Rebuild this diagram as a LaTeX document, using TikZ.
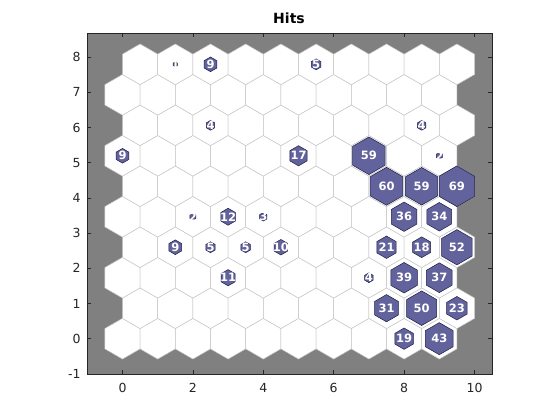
\documentclass[tikz,border=0pt]{standalone}
\usepackage{fontspec}
\setmainfont{DejaVu Sans}
\definecolor{hitfill}{RGB}{98,98,156}
\definecolor{hitedge}{RGB}{30,30,70}
\definecolor{gridedge}{RGB}{200,200,200}
\definecolor{axbg}{RGB}{128,128,128}
\definecolor{axcol}{RGB}{38,38,38}
\tikzset{
  hexgrid/.style={draw=gridedge, fill=white, line width=0.5pt},
  hitpatch/.style={draw=hitedge, fill=hitfill, line width=0.5pt},
  hitlabel/.style={text=white, font=\fontsize{11.5}{11.5}\selectfont\bfseries, inner sep=0pt},
  ticklabel/.style={text=axcol, font=\fontsize{12.5}{12.5}\selectfont, inner sep=0pt},
  axline/.style={draw=axcol, line width=0.6pt}
}
\newcommand{\hexshape}{(0.5,0.288675) -- (0,0.57735) -- (-0.5,0.288675) -- (-0.5,-0.288675) -- (0,-0.57735) -- (0.5,-0.288675) -- cycle}
\begin{document}
\begin{tikzpicture}[x=1pt,y=1pt]
\useasboundingbox (0,0) rectangle (560,420);
\fill[white] (0,0) rectangle (560,420);
\node[font=\fontsize{14}{14}\selectfont\bfseries, anchor=base, inner sep=0pt] (title) at (289,396.7) {Hits};
\begin{scope}[shift={(122.5,81.3)}, x=35.2pt, y=35.2pt]
  \fill[axbg] (-1,-1) rectangle (10.5,8.69);
  \foreach \j in {0,...,9} {
    \foreach \i in {0,...,9} {
      \pgfmathsetmacro\cx{\i+0.5*mod(\j,2)}
      \pgfmathsetmacro\cy{\j*0.8660254}
      \path[hexgrid, shift={(\cx,\cy)}] \hexshape;
    }
  }
  \foreach \cx/\r/\h [count=\n] in {
    8/0/19, 9/0/43,
    7.5/1/31, 8.5/1/50, 9.5/1/23,
    3/2/11, 7/2/4, 8/2/39, 9/2/37,
    1.5/3/9, 2.5/3/5, 3.5/3/5, 4.5/3/10, 7.5/3/21, 8.5/3/18, 9.5/3/52,
    2/4/2, 3/4/12, 4/4/3, 8/4/36, 9/4/34,
    7.5/5/60, 8.5/5/59, 9.5/5/69,
    0/6/9, 5/6/17, 7/6/59, 9/6/2,
    2.5/7/4, 8.5/7/4,
    1.5/9/1, 2.5/9/9, 5.5/9/5} {
    \pgfmathsetmacro\cy{\r*0.8660254}
    \pgfmathsetmacro\s{sqrt(\h/69)}
    \path[hitpatch, shift={(\cx,\cy)}, scale=\s] \hexshape;
    \node[hitlabel] (hit\n) at (\cx,\cy) {\h};
  }
  % axes box
  \draw[axline] (-1,-1) rectangle (10.5,8.69);
  \foreach \k in {0,2,...,10} {
    \draw[axline] (\k,-1) -- ++(0,0.115);
    \draw[axline] (\k,8.69) -- ++(0,-0.115);
    \node[ticklabel, anchor=base] (xt\k) at ([yshift=-18.6pt]\k,-1) {\k};
  }
  \foreach \k in {-1,...,8} {
    \draw[axline] (-1,\k) -- ++(0.115,0);
    \draw[axline] (10.5,\k) -- ++(-0.115,0);
    \node[ticklabel, anchor=east] (yt\k) at ([xshift=-6.5pt]-1,\k) {\k};
  }
\end{scope}
\end{tikzpicture}
\end{document}
